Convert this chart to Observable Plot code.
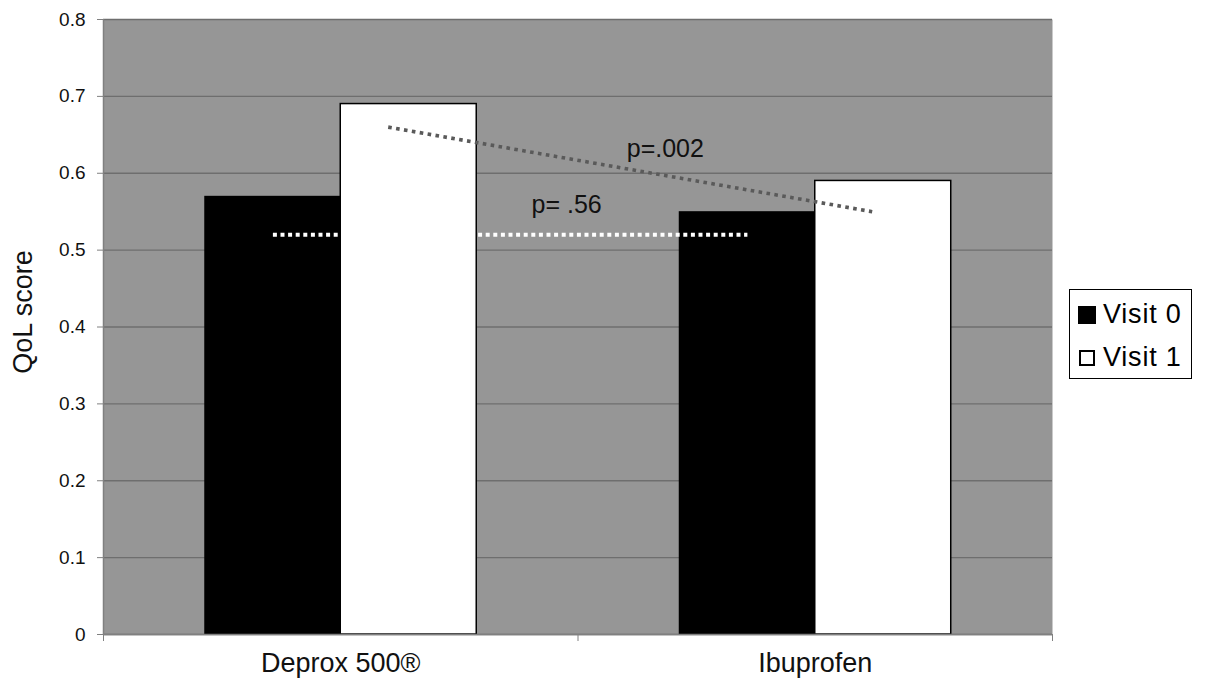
<!DOCTYPE html>
<html>
<head>
<meta charset="utf-8">
<script src="https://cdn.jsdelivr.net/npm/d3@7"></script>
<script src="https://cdn.jsdelivr.net/npm/@observablehq/plot@0.6"></script>
<style>
  body { margin: 0; background: #fff; font-family: "Liberation Sans", Arial, sans-serif; }
  #wrap { position: relative; width: 1205px; height: 689px; }
  #legend { position: absolute; left: 1069px; top: 289px; width: 121px; height: 88px;
    border: 1.5px solid #000; background: #fff; font-size: 27px; letter-spacing: 0.8px; color: #000; }
  .item { position: absolute; left: 8px; display: flex; align-items: center; }
  .sw { display: inline-block; box-sizing: border-box; margin-right: 7px; }
</style>
</head>
<body>
<div id="wrap"></div>
<script>
// ---- data ----
const categories = ["Deprox 500®", "Ibuprofen"];
const visits = ["Visit 0", "Visit 1"];
const visit0 = [0.57, 0.55];
const visit1 = [0.69, 0.59];
const yTicks = [0, 0.1, 0.2, 0.3, 0.4, 0.5, 0.6, 0.7, 0.8];
// annotation lines (x in category units: category i spans [i, i+1])
const whiteLineX = [0.357, 1.357];
const whiteLineY = [0.52, 0.52];
const grayLineX = [0.60, 1.62];
const grayLineY = [0.66, 0.55];
const pLabels = ["p= .56", "p=.002"];
const pLabelX = [0.976, 1.184];
const pLabelY = [0.559, 0.632];

// ---- build tables ----
const barW = 0.2866; // fraction of category band per bar
const bars = [];
categories.forEach((c, i) => {
  [visit0[i], visit1[i]].forEach((v, j) => {
    const x1 = i + (1 - 2 * barW) / 2 + j * barW;
    bars.push({category: c, visit: visits[j], value: v, x1, x2: x1 + barW});
  });
});
const whiteLine = whiteLineX.map((x, k) => ({x, y: whiteLineY[k]}));
const grayLine = grayLineX.map((x, k) => ({x, y: grayLineY[k]}));
const labels = pLabels.map((t, k) => ({t, x: pLabelX[k], y: pLabelY[k]}));

const font = "Liberation Sans, Arial, sans-serif";

const chart = Plot.plot({
  width: 1205,
  height: 689,
  marginLeft: 103,
  marginRight: 153,
  marginTop: 19,
  marginBottom: 55,
  style: {fontFamily: font, color: "#000", background: "#fff"},
  x: {domain: [0, 2], axis: null},
  y: {domain: [0, 0.8], axis: null},
  marks: [
    Plot.frame({fill: "#969696", stroke: null}),
    Plot.gridY(yTicks, {stroke: "#6e6e6e", strokeOpacity: 1, strokeWidth: 1.3}),
    Plot.rectY(bars.filter(d => d.visit === "Visit 0"), {x1: "x1", x2: "x2", y: "value", fill: "#000"}),
    Plot.rectY(bars.filter(d => d.visit === "Visit 1"), {x1: "x1", x2: "x2", y: "value", fill: "#fff", stroke: "#000", strokeWidth: 1.5}),
    Plot.ruleX([0], {stroke: "#808080", strokeWidth: 1.5}),
    Plot.ruleY([0], {stroke: "#808080", strokeWidth: 1.5}),
    Plot.line(whiteLine, {x: "x", y: "y", stroke: "#fff", strokeWidth: 4, strokeDasharray: "4,3.6", strokeLinecap: "butt"}),
    Plot.line(grayLine, {x: "x", y: "y", stroke: "#5a5a5a", strokeWidth: 3.6, strokeDasharray: "3.6,4.4", strokeLinecap: "butt"}),
    Plot.text(labels, {x: "x", y: "y", text: "t", fontSize: 25, fill: "#111", textAnchor: "middle"}),
    Plot.axisY({ticks: yTicks, tickSize: 6, tickPadding: 12, fontSize: 19, stroke: "#808080", fill: "#111",
      label: null, tickFormat: d => String(d)}),
    Plot.axisX({ticks: [0, 1, 2], tickSize: 7, stroke: "#808080", label: null, tickFormat: () => ""}),
    Plot.axisX({ticks: [0.5, 1.5], tickSize: 0, tickPadding: 18, fontSize: 27, fill: "#111", label: null,
      tickFormat: d => categories[Math.floor(d)]}),
    Plot.text(["QoL score"], {frameAnchor: "left", rotate: -90, dx: -80, dy: -15, fontSize: 27, fill: "#111", textAnchor: "middle"})
  ]
});

const wrap = document.getElementById("wrap");
wrap.appendChild(chart);

// legend
const legend = document.createElement("div");
legend.id = "legend";
legend.innerHTML = `
  <div class="item" style="top:9px"><span class="sw" style="width:18px;height:18px;background:#000"></span><span>${visits[0]}</span></div>
  <div class="item" style="top:52px"><span class="sw" style="width:16px;height:16px;background:#fff;border:2px solid #000;margin-left:1px;margin-right:8px"></span><span>${visits[1]}</span></div>`;
wrap.appendChild(legend);
</script>
</body>
</html>
